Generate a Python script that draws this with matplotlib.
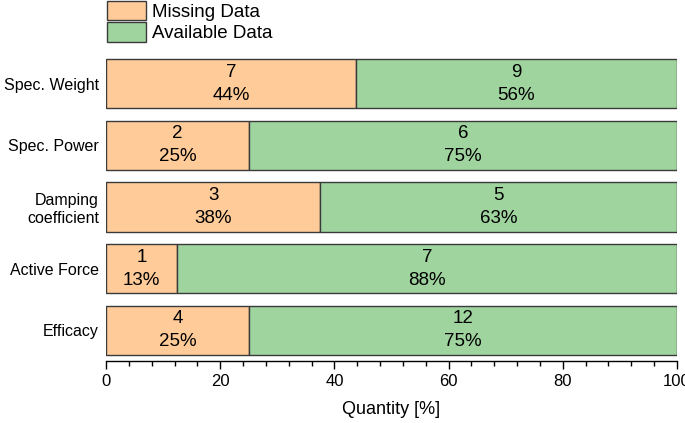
import matplotlib
matplotlib.use("Agg")
import matplotlib.pyplot as plt
from matplotlib.ticker import MultipleLocator
from matplotlib.patches import Patch

plt.rcParams['font.family'] = ['Liberation Sans', 'DejaVu Sans']

categories = ["Spec. Weight", "Spec. Power", "Damping\ncoefficient", "Active Force", "Efficacy"]
missing = [7, 2, 3, 1, 4]
available = [9, 6, 5, 7, 12]

c_miss = "#FFCC99"
c_avail = "#9FD49F"
edge = "#3a3a3a"

fig = plt.figure(figsize=(6.85, 4.23), dpi=100)
ax = fig.add_axes([106/685, 1-361/423, (677-106)/685, (361-53)/423])

n = len(categories)
ys = [n - 1 - i for i in range(n)]
for y, m, a in zip(ys, missing, available):
    tot = m + a
    pm = 100 * m / tot
    pa = 100 * a / tot
    ax.barh(y, pm, left=0, height=0.8, color=c_miss, edgecolor=edge, linewidth=1)
    ax.barh(y, pa, left=pm, height=0.8, color=c_avail, edgecolor=edge, linewidth=1)
    ax.text(pm/2, y, f"{m}\n{int(pm+0.5)}%", ha='center', va='center', fontsize=13.5, linespacing=1.45)
    ax.text(pm + pa/2, y, f"{a}\n{int(pa+0.5)}%", ha='center', va='center', fontsize=13.5, linespacing=1.45)

ax.set_xlim(0, 100)
ax.set_ylim(-0.5, n - 0.5)
ax.set_yticks(ys)
ax.set_yticklabels(categories, multialignment='right')
ax.tick_params(axis='y', length=0, pad=5, labelsize=11.5)
ax.xaxis.set_major_locator(MultipleLocator(20))
ax.xaxis.set_minor_locator(MultipleLocator(4))
ax.tick_params(axis='x', which='major', direction='out', length=6, width=1, labelsize=12, pad=3)
ax.tick_params(axis='x', which='minor', direction='out', length=3.5, width=1)
for s in ['left', 'right', 'top']:
    ax.spines[s].set_visible(False)
ax.spines['bottom'].set_linewidth(1)
ax.set_xlabel("Quantity [%]", fontsize=13, labelpad=9)

handles = [Patch(facecolor=c_miss, edgecolor=edge, label="Missing Data"),
           Patch(facecolor=c_avail, edgecolor=edge, label="Available Data")]
fig.legend(handles=handles, loc='upper left', bbox_to_anchor=(107/685, 1 - 1/423), frameon=False,
           fontsize=13.5, handlelength=2.1, handleheight=1.2, labelspacing=0.08, handletextpad=0.3,
           borderpad=0, borderaxespad=0)

fig.savefig("out.png", dpi=100)
